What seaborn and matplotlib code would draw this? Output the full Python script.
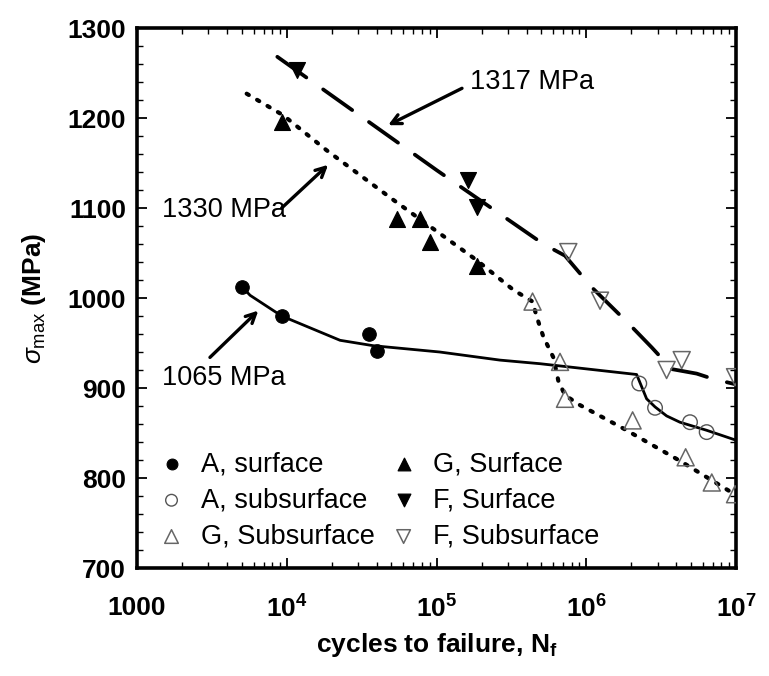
import numpy as np
import matplotlib
matplotlib.use("Agg")
import matplotlib.pyplot as plt
from matplotlib.ticker import FixedLocator, FixedFormatter, LogLocator, MultipleLocator, NullFormatter
import seaborn as sns

# ---------------- data ----------------
a_surf_n = [5000, 9250, 35300, 39900]
a_surf_s = [1012, 980, 960, 941]
a_sub_n = [2.26e6, 2.88e6, 4.93e6, 6.37e6]
a_sub_s = [905, 878, 862, 851]
g_surf_n = [9250, 54200, 77600, 90500, 185500]
g_surf_s = [1196, 1088, 1088, 1062, 1036]
f_surf_n = [11650, 163000, 185500]
f_surf_s = [1253, 1131, 1101]
g_sub_n = [438000, 668000, 721000, 2.04e6, 4.61e6, 6.89e6, 9.85e6]
g_sub_s = [996, 929, 888, 864, 823, 795, 782]
f_sub_n = [759000, 1.236e6, 3.44e6, 4.34e6, 9.85e6]
f_sub_s = [1051, 997, 920, 931, 912]

# hand-drawn trend curves
a_fit_n = [5000, 5690, 9250, 22700, 37800, 105000, 265000, 491000, 2.17e6,
           2.35e6, 2.53e6, 2.88e6, 3.44e6, 4.22e6, 6.37e6, 1e7]
a_fit_s = [1013, 1003, 980, 953, 947, 940, 931, 927, 915,
           901, 888, 879, 869, 862, 853, 842]
g_fit_n = [5400, 9480, 18500, 51500, 185500, 326000, 438000, 467000, 517000,
           603000, 651000, 721000, 908000, 1.77e6, 4.23e6, 1e7]
g_fit_s = [1227, 1203, 1164, 1109, 1042, 1009, 996, 979, 957,
           934, 908, 892, 881, 855, 819, 781]
f_fit_n = [8650, 100300, 517000, 721000, 1.087e6, 1.96e6, 2.74e6, 3.72e6,
           5.46e6, 7.05e6, 1e7]
f_fit_s = [1268, 1142, 1060, 1047, 1012, 970, 945, 921, 916, 910, 904]

x_ticks = [1e3, 1e4, 1e5, 1e6, 1e7]
x_tick_labels = ["1000", r"$\mathbf{10^4}$", r"$\mathbf{10^5}$", r"$\mathbf{10^6}$", r"$\mathbf{10^7}$"]
y_ticks = [700, 800, 900, 1000, 1100, 1200, 1300]

labels = ["A, surface", "A, subsurface", "G, Subsurface",
          "G, Surface", "F, Surface", "F, Subsurface"]

# ---------------- style ----------------
sns.set_style("ticks")
plt.rcParams["font.family"] = ["Liberation Sans", "DejaVu Sans"]
plt.rcParams["mathtext.fontset"] = "custom"
plt.rcParams["mathtext.rm"] = "Liberation Sans"
plt.rcParams["mathtext.it"] = "Liberation Sans:italic"
plt.rcParams["mathtext.bf"] = "Liberation Sans:bold"
for k in ["text.color", "axes.labelcolor", "xtick.color", "ytick.color", "axes.edgecolor"]:
    plt.rcParams[k] = "black"

FS = 19
FS_T = 19.5

fig = plt.figure(figsize=(7.69, 6.76), dpi=100)
ax = fig.add_axes([137 / 769, 1 - 568 / 676, (736 - 137) / 769, (568 - 28) / 676])
ax.set_xscale("log")

# trend lines
sns.lineplot(x=a_fit_n, y=a_fit_s, ax=ax, color="black", linewidth=2.0,
             sort=False, estimator=None)
sns.lineplot(x=g_fit_n, y=g_fit_s, ax=ax, color="black", linewidth=3.0,
             linestyle=(0, (0.6, 2.3)), dash_capstyle="round",
             sort=False, estimator=None)
sns.lineplot(x=f_fit_n, y=f_fit_s, ax=ax, color="black", linewidth=2.7,
             linestyle=(0, (9.5, 5.5)), dash_capstyle="round",
             sort=False, estimator=None)

# data points
sns.scatterplot(x=a_surf_n, y=a_surf_s, ax=ax, marker="o", s=95, color="black",
                edgecolor="black", label=labels[0], zorder=4)
sns.scatterplot(x=a_sub_n, y=a_sub_s, ax=ax, marker="o", s=110, facecolor="none",
                edgecolor="#555555", linewidth=1.0, label=labels[1], zorder=4)
sns.scatterplot(x=g_sub_n, y=g_sub_s, ax=ax, marker="^", s=150, facecolor="none",
                edgecolor="#666666", linewidth=1.1, label=labels[2], zorder=4)
sns.scatterplot(x=g_surf_n, y=g_surf_s, ax=ax, marker="^", s=130, color="black",
                edgecolor="black", label=labels[3], zorder=4)
sns.scatterplot(x=f_surf_n, y=f_surf_s, ax=ax, marker="v", s=130, color="black",
                edgecolor="black", label=labels[4], zorder=4)
sns.scatterplot(x=f_sub_n, y=f_sub_s, ax=ax, marker="v", s=150, facecolor="none",
                edgecolor="#666666", linewidth=1.1, label=labels[5], zorder=4)

# axes
ax.set_xlim(1e3, 1e7)
ax.set_ylim(700, 1300)
ax.xaxis.set_major_locator(FixedLocator(x_ticks))
ax.xaxis.set_major_formatter(FixedFormatter(x_tick_labels))
ax.xaxis.set_minor_locator(LogLocator(base=10, subs=np.arange(2, 10)))
ax.xaxis.set_minor_formatter(NullFormatter())
ax.yaxis.set_major_locator(FixedLocator(y_ticks))
ax.yaxis.set_minor_locator(MultipleLocator(20))
ax.tick_params(which="both", direction="in", top=True, right=True, colors="black")
ax.tick_params(which="major", length=7, width=1.3, labelsize=FS, pad=8)
ax.tick_params(axis="x", which="major", pad=20)
ax.tick_params(which="minor", length=4, width=1.0)
for lab in ax.get_xticklabels() + ax.get_yticklabels():
    lab.set_fontweight("bold")
for sp in ax.spines.values():
    sp.set_linewidth(2.6)
    sp.set_color("black")

ax.set_xlabel(r"cycles to failure, N$_{\mathbf{f}}$", fontsize=FS, fontweight="bold", labelpad=6)
ax.set_ylabel(r"$\sigma_{\mathrm{max}}$ (MPa)", fontsize=FS, fontweight="bold", labelpad=14)

# annotations
arrow = dict(arrowstyle="->,head_length=0.7,head_width=0.35", lw=2.4, color="black",
             shrinkA=0, shrinkB=0)
ax.annotate("", xy=(47500, 1192), xytext=(148000, 1233), arrowprops=arrow)
ax.text(167500, 1240, "1317 MPa", fontsize=FS_T, va="center", ha="left")
ax.annotate("", xy=(18900, 1148), xytext=(9250, 1100), arrowprops=arrow)
ax.text(1462, 1098, "1330 MPa", fontsize=FS_T, va="center", ha="left")
ax.annotate("", xy=(6460, 986), xytext=(3070, 934), arrowprops=arrow)
ax.text(1462, 911, "1065 MPa", fontsize=FS_T, va="center", ha="left")

# legend
handles, labs = ax.get_legend_handles_labels()
order = [labs.index(l) for l in labels]
leg = ax.legend([handles[i] for i in order], [labs[i] for i in order], ncol=2,
                loc="lower left", bbox_to_anchor=(0.035, 0.034), frameon=False,
                fontsize=FS_T, markerscale=0.8, handlelength=1.0, handletextpad=0.6,
                columnspacing=0.55, labelspacing=0.38, borderpad=0, borderaxespad=0)

fig.savefig("out.png", dpi=100)
